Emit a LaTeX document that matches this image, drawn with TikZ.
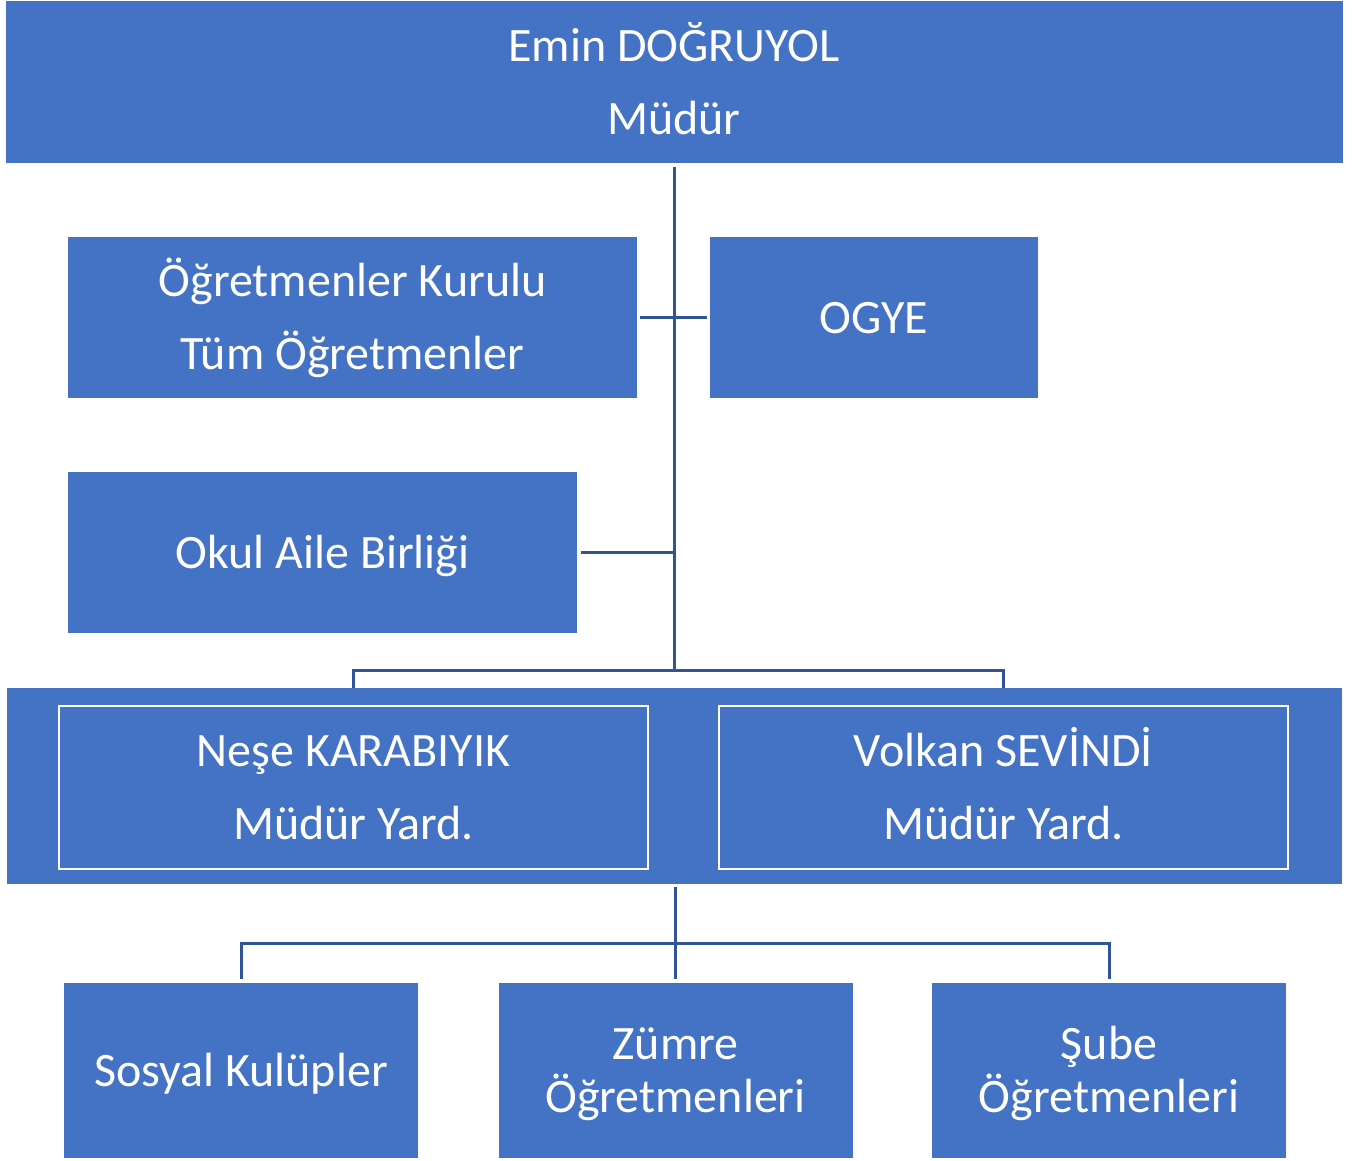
\documentclass[tikz,border=0pt]{standalone}
\usepackage{fontspec}
\setmainfont{Carlito}
\definecolor{boxblue}{HTML}{4472C4}
\definecolor{lineblue}{HTML}{2F5597}
\newcommand\topst{\rule{0pt}{43pt}}
\newcommand\botst{\rule[-12pt]{0pt}{12pt}}
\begin{document}
\begin{tikzpicture}[x=1pt,y=-1pt,
  box/.style={fill=boxblue, draw=none, text=white, align=center, inner sep=0pt, outer sep=0pt,
    font={\fontsize{48}{73}\selectfont}},
  ibox/.style={box, draw=white, line width=2.5pt},
  bbox/.style={box, font={\fontsize{48}{53}\selectfont}},
  conn/.style={draw=lineblue, line width=3pt}]
\useasboundingbox (0,0) rectangle (1357,1160);
% nodes
\node[box, minimum width=1337pt, minimum height=162pt] (top) at (674,82) {\topst Emin DOĞRUYOL\\Müdür\botst};
\node[box, minimum width=569pt, minimum height=161pt] (ogk) at (352.5,317.5) {\topst Öğretmenler Kurulu\\Tüm Öğretmenler\botst};
\node[box, minimum width=328pt, minimum height=161pt] (ogye) at (874,317.5) {\topst OGYE\botst};
\node[box, minimum width=509pt, minimum height=161pt] (oab) at (322.5,552.5) {\topst Okul Aile Birliği\botst};
\node[box, minimum width=1335pt, minimum height=196pt] (big) at (674.5,786) {};
\node[ibox, minimum width=589pt, minimum height=163pt] (nese) at (353.5,787.5) {\topst Neşe KARABIYIK\\Müdür Yard.\botst};
\node[ibox, minimum width=569pt, minimum height=163pt] (volkan) at (1003.5,787.5) {\topst Volkan SEVİNDİ\\Müdür Yard.\botst};
\node[bbox, minimum width=354pt, minimum height=175pt] (sosyal) at (241,1070.5) {\topst Sosyal Kulüpler\botst};
\node[bbox, minimum width=354pt, minimum height=175pt] (zumre) at (675.5,1070.5) {\topst Zümre\\Öğretmenleri\botst};
\node[bbox, minimum width=354pt, minimum height=175pt] (sube) at (1109,1070.5) {\topst Şube\\Öğretmenleri\botst};
% junctions
\coordinate (j1) at (674,670);
\coordinate (j2) at (675.5,943);
% connectors
\draw[conn, shorten <=4pt] (top.south) -- (top.south |- j1);
\draw[conn, shorten <=3pt, shorten >=3pt] (ogk.east) -- (ogye.west);
\draw[conn, shorten <=4pt] (oab.east) -- (oab.east -| j1);
\draw[conn] (nese.north |- big.north) |- (j1) -| (volkan.north |- big.north);
\draw[conn, shorten <=3pt, shorten >=4pt] (zumre.north |- big.south) -- (zumre.north);
\draw[conn, shorten <=4pt, shorten >=4pt] (sosyal.north) |- (j2) -| (sube.north);
\end{tikzpicture}
\end{document}
